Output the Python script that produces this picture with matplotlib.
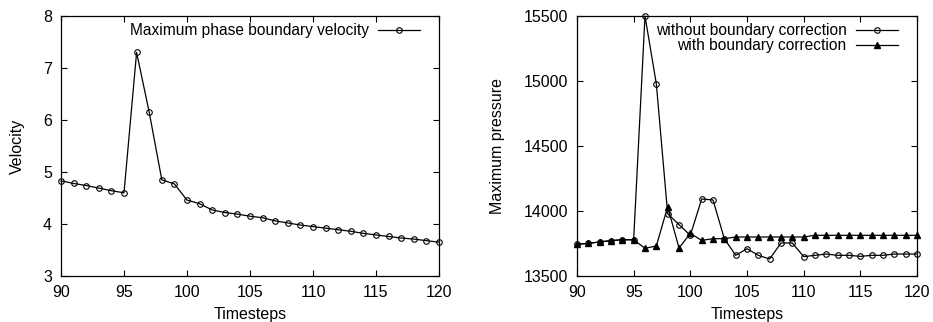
import numpy as np
import matplotlib
matplotlib.use("Agg")
import matplotlib.pyplot as plt

plt.rcParams['font.family'] = ['Liberation Sans', 'DejaVu Sans']
plt.rcParams['font.size'] = 11.5

# timesteps 90..120
steps = list(range(90, 121))

# left: maximum phase boundary velocity
velocity = [4.83, 4.78, 4.74, 4.69, 4.64, 4.60, 7.30, 6.15, 4.85, 4.77,
            4.46, 4.39, 4.27, 4.22, 4.19, 4.15, 4.12, 4.06, 4.02, 3.98,
            3.95, 3.92, 3.89, 3.86, 3.82, 3.79, 3.76, 3.73, 3.71, 3.68,
            3.65]

# right: maximum pressure
p_without = [13744, 13751, 13762, 13772, 13779, 13779, 15500, 14978, 13979, 13895,
             13813, 14092, 14085, 13787, 13659, 13710, 13659, 13631, 13754, 13754,
             13649, 13659, 13669, 13659, 13659, 13651, 13659, 13659, 13669, 13669,
             13669]
p_with = [13744, 13751, 13762, 13772, 13779, 13779, 13713, 13731, 14033, 13715,
          13828, 13774, 13787, 13787, 13800, 13800, 13800, 13800, 13800, 13800,
          13800, 13813, 13813, 13813, 13813, 13813, 13813, 13813, 13813, 13813,
          13813]

fig = plt.figure(figsize=(9.33, 3.22), dpi=100)
W, H = 933.0, 322.0
ax1 = fig.add_axes([61 / W, 1 - 276 / H, (439 - 61) / W, (276 - 16) / H])
ax2 = fig.add_axes([577 / W, 1 - 276 / H, (917 - 577) / W, (276 - 16) / H])

def style(ax):
    ax.tick_params(direction='in', top=True, right=True, length=4, width=0.8,
                   pad=6.5, labelsize=11.5)
    for s in ax.spines.values():
        s.set_linewidth(0.9)
    ax.set_xlim(90, 120)
    ax.set_xticks(range(90, 121, 5))
    ax.set_xlabel('Timesteps', labelpad=5)

ax1.plot(steps, velocity, color='black', lw=0.9, marker='o', ms=4,
         mfc='none', mec='black', mew=0.8,
         label='Maximum phase boundary velocity', clip_on=False)
ax1.set_ylim(3, 8)
ax1.set_yticks(range(3, 9))
ax1.set_ylabel('Velocity', labelpad=13)
style(ax1)
ax1.legend(loc='upper right', bbox_to_anchor=(0.966, 0.996), frameon=False,
           markerfirst=False, handlelength=2.7, handletextpad=0.6,
           borderaxespad=0, fontsize=11.2)

ax2.plot(steps, p_without, color='black', lw=0.9, marker='o', ms=4,
         mfc='none', mec='black', mew=0.8,
         label='without boundary correction', clip_on=False)
ax2.plot(steps, p_with, color='black', lw=0.9, marker='^', ms=4,
         mfc='black', mec='black',
         label='with boundary correction', clip_on=False)
ax2.set_ylim(13500, 15500)
ax2.set_yticks(range(13500, 15501, 500))
ax2.set_ylabel('Maximum pressure', labelpad=13)
style(ax2)
ax2.legend(loc='upper right', bbox_to_anchor=(0.962, 0.996), frameon=False,
           markerfirst=False, handlelength=2.7, handletextpad=0.6,
           borderaxespad=0, labelspacing=0.0, fontsize=11.2)

fig.savefig('out.png', dpi=100)
